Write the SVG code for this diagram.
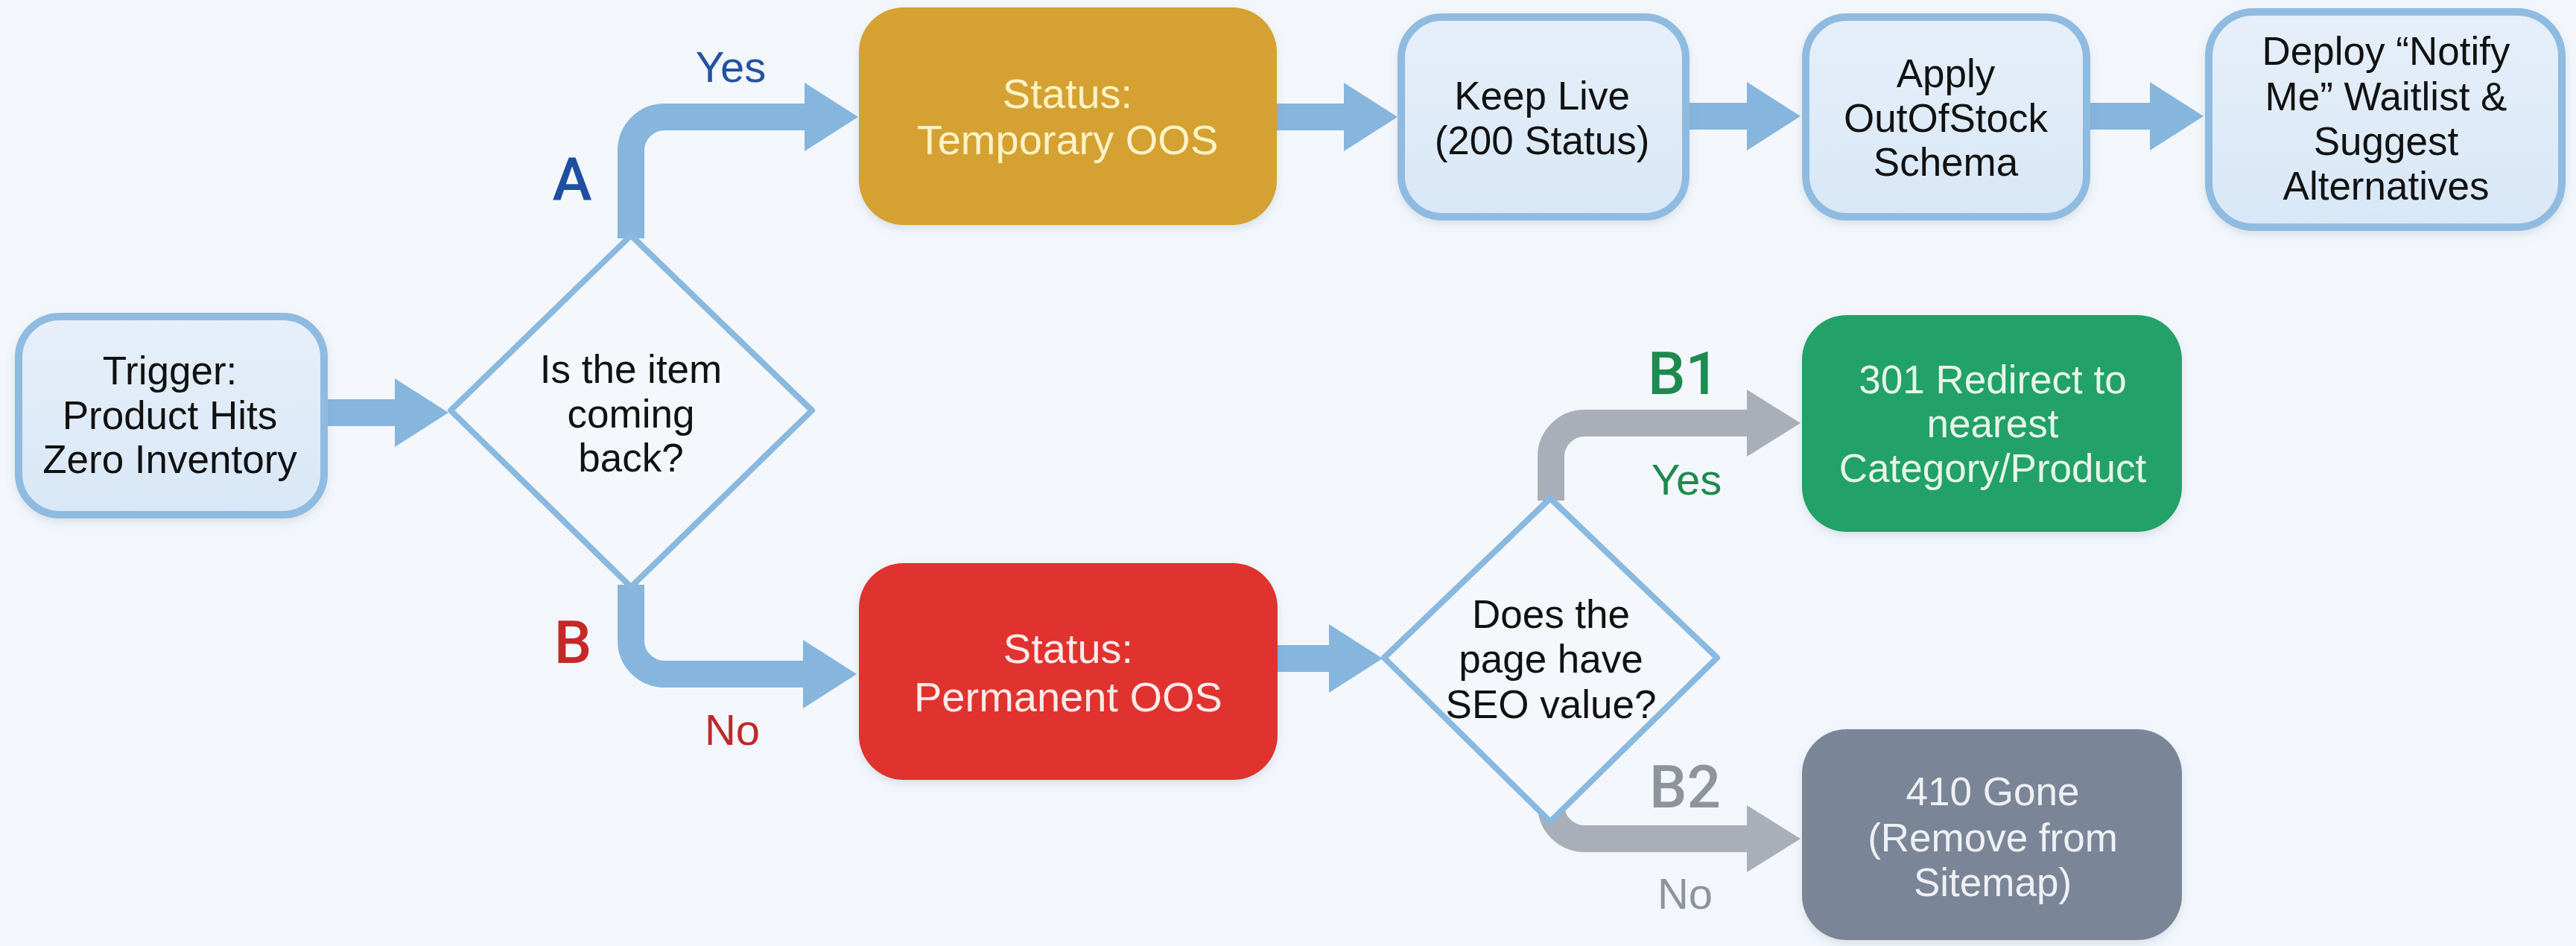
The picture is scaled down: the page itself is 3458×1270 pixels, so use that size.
<svg xmlns="http://www.w3.org/2000/svg" width="3458" height="1270" viewBox="0 0 3458 1270">
  <defs>
    <linearGradient id="paleFill" x1="0" y1="0" x2="0" y2="1">
      <stop offset="0" stop-color="#e6eff9"/>
      <stop offset="1" stop-color="#d8e7f6"/>
    </linearGradient>
    <filter id="soft" x="-10%" y="-10%" width="120%" height="125%">
      <feDropShadow dx="0" dy="5" stdDeviation="6" flood-color="#5a7590" flood-opacity="0.18"/>
    </filter>
    <marker id="headBlue" markerUnits="userSpaceOnUse" markerWidth="72" markerHeight="92" refX="0" refY="46" orient="auto">
      <path d="M0,0 L72,46 L0,92 Z" fill="#86b5dd"/>
    </marker>
    <marker id="headGray" markerUnits="userSpaceOnUse" markerWidth="72" markerHeight="90" refX="0" refY="45" orient="auto">
      <path d="M0,0 L72,45 L0,90 Z" fill="#a9afb8"/>
    </marker>
  </defs>
  <style>
    .bg { fill: #f3f7fb; }
    .pale { fill: url(#paleFill); stroke: #8fbbe0; stroke-width: 10; filter: url(#soft); }
    .solid { filter: url(#soft); }
    .diamond { fill: #f4f8fc; stroke: #8ab8de; stroke-width: 8; stroke-linejoin: round; }
    .flow { fill: none; stroke: #86b5dd; stroke-width: 36; marker-end: url(#headBlue); }
    .flowGray { fill: none; stroke: #a9afb8; stroke-width: 36; marker-end: url(#headGray); }
    text { font-family: "Liberation Sans", Arial, sans-serif; text-anchor: middle; }
    .dark { font-size: 53px; fill: #111111; }
    .light { font-size: 56px; }
    .tag { font-size: 58px; }
    .letter { font-family: Roboto, "Liberation Sans", sans-serif; font-size: 80px; font-weight: 500; }
  </style>

  <rect class="bg" x="0" y="0" width="3458" height="1270"/>

  <!-- arrows between the steps -->
  <g id="connectors">
    <path class="flow" d="M440,554 H530"/>
    <path class="flow" d="M847,320 V202 A45,45 0 0 1 892,157 H1080"/>
    <path class="flow" d="M847,785 V860 A45,45 0 0 0 892,905 H1078"/>
    <path class="flow" d="M1712,157 H1804"/>
    <path class="flow" d="M2266,156 H2345"/>
    <path class="flow" d="M2804,156 H2886"/>
    <path class="flow" d="M1713,884 H1784"/>
    <path class="flowGray" d="M2082,672 V613 A45,45 0 0 1 2127,568 H2345"/>
    <path class="flowGray" d="M2082,1081 A45,45 0 0 0 2127,1126 H2345"/>

    <text class="letter" x="768" y="268" fill="#1f4fa0">A</text>
    <text class="tag" x="981" y="110" fill="#2352a0">Yes</text>
    <text class="letter" x="769" y="890" fill="#c62828">B</text>
    <text class="tag" x="983" y="1000" fill="#c0282a">No</text>
    <text class="letter" x="2260" y="529" fill="#1e8a4f">B1</text>
    <text class="tag" x="2264" y="664" fill="#1d8a4e">Yes</text>
    <text class="letter" x="2262" y="1084" fill="#8e949e">B2</text>
    <text class="tag" x="2262" y="1220" fill="#8e949e">No</text>
  </g>

  <g id="trigger">
    <rect class="pale" x="25" y="425" width="410" height="266" rx="55"/>
    <text class="dark" x="228" y="516">Trigger:</text>
    <text class="dark" x="228" y="576">Product Hits</text>
    <text class="dark" x="228" y="635">Zero Inventory</text>
  </g>

  <g id="decision-coming-back">
    <polygon class="diamond" points="847,316 1090,551 847,788 605,551"/>
    <text class="dark" x="847" y="514">Is the item</text>
    <text class="dark" x="847" y="574">coming</text>
    <text class="dark" x="847" y="633">back?</text>
  </g>

  <g id="temporary-oos">
    <rect class="solid" x="1153" y="10" width="561" height="292" rx="60" fill="#d4a132"/>
    <text class="light" x="1433" y="145" fill="#fff3c6">Status:</text>
    <text class="light" x="1433" y="207" fill="#fff3c6">Temporary OOS</text>
  </g>

  <g id="keep-live">
    <rect class="pale" x="1881" y="23" width="382" height="268" rx="55"/>
    <text class="dark" x="2070" y="147">Keep Live</text>
    <text class="dark" x="2070" y="207">(200 Status)</text>
  </g>

  <g id="apply-schema">
    <rect class="pale" x="2424" y="23" width="377" height="268" rx="55"/>
    <text class="dark" x="2612" y="117">Apply</text>
    <text class="dark" x="2612" y="177">OutOfStock</text>
    <text class="dark" x="2612" y="236">Schema</text>
  </g>

  <g id="notify-waitlist">
    <rect class="pale" x="2965" y="16" width="474" height="289" rx="60"/>
    <text class="dark" x="3203" y="87">Deploy “Notify</text>
    <text class="dark" x="3203" y="148">Me” Waitlist &amp;</text>
    <text class="dark" x="3203" y="208">Suggest</text>
    <text class="dark" x="3203" y="268">Alternatives</text>
  </g>

  <g id="permanent-oos">
    <rect class="solid" x="1153" y="756" width="562" height="291" rx="60" fill="#e0322e"/>
    <text class="light" x="1434" y="890" fill="#fdeaea">Status:</text>
    <text class="light" x="1434" y="955" fill="#fdeaea">Permanent OOS</text>
  </g>

  <g id="decision-seo-value">
    <polygon class="diamond" points="2081,669 2305,883 2081,1103 1858,883"/>
    <text class="dark" x="2082" y="843">Does the</text>
    <text class="dark" x="2082" y="903">page have</text>
    <text class="dark" x="2082" y="964">SEO value?</text>
  </g>

  <g id="redirect-301">
    <rect class="solid" x="2419" y="423" width="510" height="291" rx="60" fill="#22a169"/>
    <text class="dark" x="2675" y="528" style="fill:#e6f5ea">301 Redirect to</text>
    <text class="dark" x="2675" y="587" style="fill:#e6f5ea">nearest</text>
    <text class="dark" x="2675" y="647" style="fill:#e6f5ea">Category/Product</text>
  </g>

  <g id="gone-410">
    <rect class="solid" x="2419" y="979" width="510" height="283" rx="60" fill="#7a8597"/>
    <text class="dark" x="2675" y="1081" style="fill:#eef0f4">410 Gone</text>
    <text class="dark" x="2675" y="1143" style="fill:#eef0f4">(Remove from</text>
    <text class="dark" x="2675" y="1203" style="fill:#eef0f4">Sitemap)</text>
  </g>
</svg>
